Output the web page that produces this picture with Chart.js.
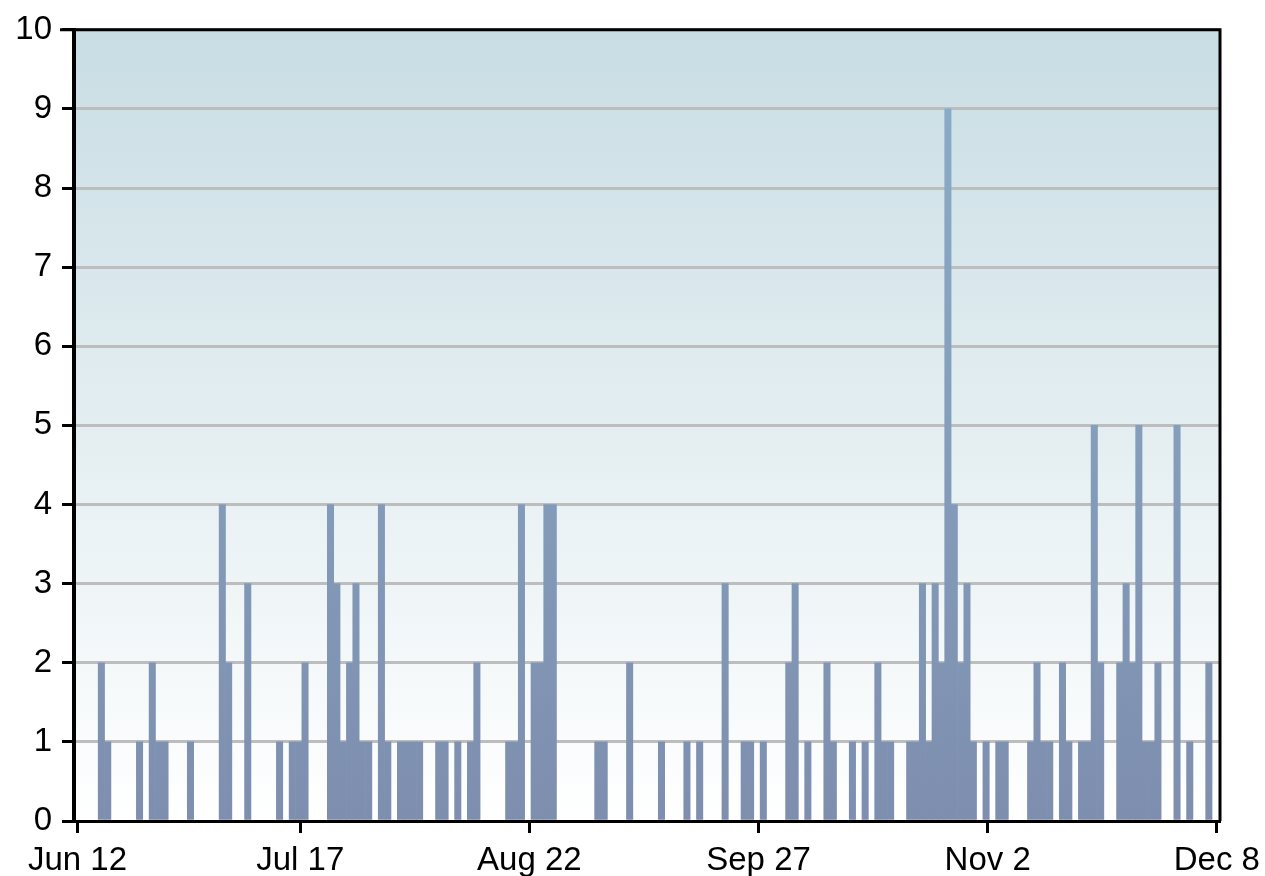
<!DOCTYPE html>
<html>
<head>
<meta charset="utf-8">
<script src="https://cdn.jsdelivr.net/npm/chart.js@4.4.1/dist/chart.umd.min.js"></script>
<style>
  html, body { margin: 0; padding: 0; background: #fff; }
  canvas { display: block; }
</style>
</head>
<body>
<canvas id="mycanvas" width="1265" height="876"></canvas>
<script>
// days counted from Jun 12, only days that had something
var days = [3,4,9,11,12,13,17,22,23,26,31,33,34,35,39,40,41,42,43,44,
            45,47,48,50,51,52,53,56,57,59,61,62,67,68,69,71,72,73,74,81,
            82,86,91,95,97,101,104,105,107,111,112,114,117,118,121,123,125,126,127,130,
            131,132,133,134,135,136,137,138,139,140,142,144,145,149,150,151,152,154,155,157,
            158,159,160,163,164,165,166,167,168,169,172,174,177];
var counts = [2,1,1,2,1,1,1,4,2,3,1,1,1,2,4,3,1,2,3,1,
              1,4,1,1,1,1,1,1,1,1,1,2,1,1,4,2,2,4,4,1,
              1,2,1,1,1,3,1,1,1,2,3,1,2,1,1,1,2,1,1,1,
              1,3,1,3,2,9,4,2,3,1,1,1,1,1,2,1,1,2,1,1,
              1,5,2,2,3,2,5,1,1,2,5,1,2];
var tickDays = [0, 35, 71, 107, 143, 179];
var tickLabels = ['Jun 12', 'Jul 17', 'Aug 22', 'Sep 27', 'Nov 2', 'Dec 8'];

var barShift = 0.75; // bars sit a bit right of the day mark

var points = [];
for (var i in days) {
  points.push({x: days[i] + barShift, y: counts[i]});
}

var plotFrame = {
  id: 'plotFrame',
  beforeDraw: function(chart) {
    var a = chart.chartArea, ctx = chart.ctx;
    var g = ctx.createLinearGradient(0, a.top, 0, a.bottom);
    g.addColorStop(0, '#c8dde4');
    g.addColorStop(1, '#ffffff');
    ctx.save();
    ctx.fillStyle = g;
    ctx.fillRect(a.left, a.top, a.right - a.left, a.bottom - a.top);
    ctx.restore();
  },
  afterDraw: function(chart) {
    var a = chart.chartArea, ctx = chart.ctx;
    ctx.save();
    ctx.strokeStyle = '#000';
    ctx.lineWidth = 3;
    ctx.beginPath();
    ctx.moveTo(a.left - 14, a.top);
    ctx.lineTo(a.right, a.top);
    ctx.lineTo(a.right, a.bottom);
    ctx.stroke();
    ctx.restore();
  }
};

var ctx = document.getElementById('mycanvas');

var chart = new Chart(ctx, {
  type: 'bar',
  data: {
    datasets: [
      {
        data: points,
        backgroundColor: function(c) {
          var a = c.chart.chartArea;
          if (!a) return '#8092b1';
          var g = c.chart.ctx.createLinearGradient(0, a.top, 0, a.bottom);
          g.addColorStop(0, '#8aaec9');
          g.addColorStop(1, '#7e8eaf');
          return g;
        },
        borderWidth: 0,
        barPercentage: 1,
        categoryPercentage: 1
      }
    ]
  },
  options: {
    responsive: false,
    animation: false,
    layout: { padding: { top: 28, right: 45, left: 0, bottom: 0 } },
    plugins: {
      legend: { display: false },
      tooltip: { enabled: false }
    },
    scales: {
      x: {
        type: 'linear',
        offset: false,
        min: -0.55,
        max: 179.5,
        afterBuildTicks: function(scale) {
          scale.ticks = tickDays.map(function(d) { return {value: d}; });
        },
        afterFit: function(scale) {
          scale.height = 55;
          scale.paddingLeft = 0;
          scale.paddingRight = 0;
        },
        ticks: {
          autoSkip: false,
          maxRotation: 0,
          padding: 8,
          color: '#000',
          font: { family: "'Liberation Sans', Arial, sans-serif", size: 33 },
          callback: function(v) { return tickLabels[tickDays.indexOf(v)]; }
        },
        grid: {
          offset: false,
          drawOnChartArea: false,
          tickColor: '#000',
          tickLength: 12,
          tickWidth: 3
        },
        border: { color: '#000', width: 3 }
      },
      y: {
        min: 0,
        max: 10,
        afterFit: function(scale) { scale.width = 74; },
        ticks: {
          stepSize: 1,
          padding: 10,
          color: '#000',
          font: { family: "'Liberation Sans', Arial, sans-serif", size: 33 }
        },
        grid: {
          color: '#bdbdbd',
          lineWidth: 3,
          tickColor: '#000',
          tickLength: 12,
          tickWidth: 3
        },
        border: { color: '#000', width: 4 }
      }
    }
  },
  plugins: [plotFrame]
});
</script>
</body>
</html>
